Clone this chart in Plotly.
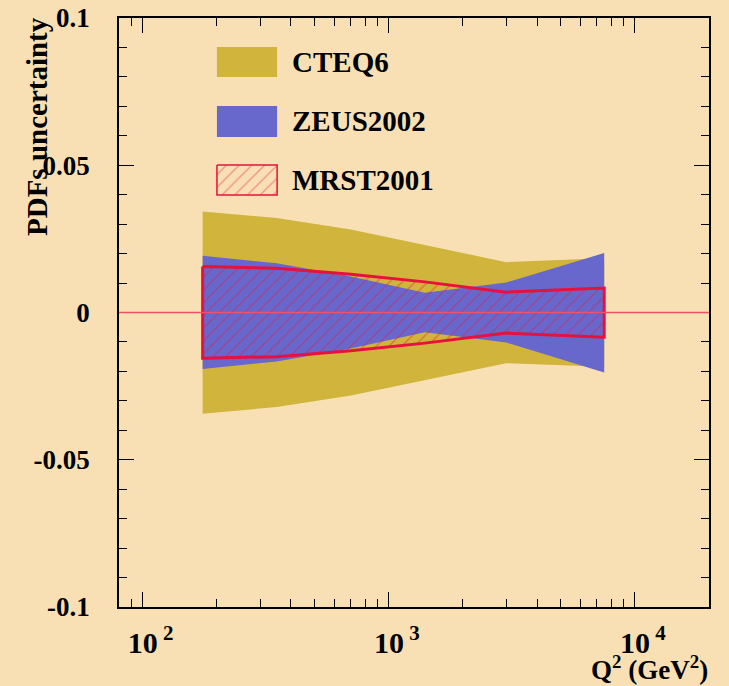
import plotly.graph_objects as go

# ---- data ----
q2 = [175, 350, 700, 1400, 3000, 7500]
cteq_up = [0.0343, 0.0321, 0.0282, 0.0230, 0.0171, 0.0184]
cteq_dn = [-0.0344, -0.0321, -0.0282, -0.0230, -0.0172, -0.0184]
zeus_up = [0.0193, 0.0167, 0.0122, 0.0067, 0.0102, 0.0202]
zeus_dn = [-0.0192, -0.0166, -0.0122, -0.0067, -0.0102, -0.0204]
mrst_up = [0.0156, 0.0150, 0.0130, 0.0104, 0.0069, 0.0083]
mrst_dn = [-0.0155, -0.0150, -0.0130, -0.0104, -0.0070, -0.0084]

series_names = ["CTEQ6", "ZEUS2002", "MRST2001"]
x_tickvals = [100, 1000, 10000]
x_exponents = ["2", "3", "4"]
x_minor = [80, 90, 200, 300, 400, 500, 600, 700, 800, 900,
           2000, 3000, 4000, 5000, 6000, 7000, 8000, 9000, 20000]
y_tickvals = [-0.1, -0.05, 0, 0.05, 0.1]
y_ticktext = ["-0.1", "-0.05", "0", "0.05", "0.1"]

BG = "#F8E0B4"
YEL = "#D0B43C"
BLU = "#6868CC"
RED = "#E8103C"
FONT = "Liberation Serif"

# "10" centred on the tick, exponent to its right (invisible twin on the left balances it)
x_ticktext = ["<span style='color:rgba(0,0,0,0)'><sup>%s </sup></span>10<sup> %s</sup>" % (e, e)
              for e in x_exponents]

def band(up, dn):
    return q2 + q2[::-1], up + dn[::-1]

fig = go.Figure()
x, y = band(cteq_up, cteq_dn)
fig.add_trace(go.Scatter(x=x, y=y, fill="toself", fillcolor=YEL, mode="lines",
                         line=dict(width=0, color=YEL), showlegend=False, name=series_names[0]))
x, y = band(zeus_up, zeus_dn)
fig.add_trace(go.Scatter(x=x, y=y, fill="toself", fillcolor=BLU, mode="lines",
                         line=dict(width=0, color=BLU), showlegend=False, name=series_names[1]))
x, y = band(mrst_up, mrst_dn)
x = x + [x[0]]
y = y + [y[0]]
fig.add_trace(go.Scatter(x=x, y=y, fill="toself", fillcolor="rgba(0,0,0,0)", mode="lines",
                         fillpattern=dict(shape="/", fgcolor=RED, bgcolor="rgba(0,0,0,0)",
                                          size=9, solidity=0.12, fillmode="overlay"),
                         line=dict(width=3, color=RED), showlegend=False, name=series_names[2]))

# legend hatched box on overlay axes (legend decoration only)
lx0, lx1 = 0.166, 0.268
fig.add_trace(go.Scatter(x=[lx0, lx1, lx1, lx0, lx0], y=[0.7504, 0.7504, 0.6995, 0.6995, 0.7504],
                         xaxis="x2", yaxis="y2", fill="toself", fillcolor="rgba(0,0,0,0)",
                         mode="lines", line=dict(width=1.5, color=RED),
                         fillpattern=dict(shape="/", fgcolor=RED, bgcolor="rgba(0,0,0,0)",
                                          size=9, solidity=0.12, fillmode="overlay"),
                         showlegend=False, hoverinfo="skip"))

shapes = [
    dict(type="rect", xref="paper", yref="paper", x0=lx0, x1=lx1, y0=0.8998, y1=0.9508,
         fillcolor=YEL, line=dict(width=0)),
    dict(type="rect", xref="paper", yref="paper", x0=lx0, x1=lx1, y0=0.798, y1=0.8506,
         fillcolor=BLU, line=dict(width=0)),
    dict(type="line", xref="x domain", yref="y", x0=0, x1=1, y0=0, y1=0,
         line=dict(color="#F05068", width=1.5), layer="above"),
]

annotations = []
for name, yc in zip(series_names, [0.9253, 0.8243, 0.725]):
    annotations.append(dict(text=name, x=0.29, y=yc, xref="paper", yref="paper",
                            xanchor="left", yanchor="middle", showarrow=False,
                            font=dict(family=FONT, size=29, color="black", weight="bold")))
annotations.append(dict(text="PDFs uncertainty", x=-0.139, y=0.8166, xref="paper", yref="paper",
                        textangle=-90, xanchor="center", yanchor="middle", showarrow=False,
                        font=dict(family=FONT, size=29, color="black", weight="bold")))
annotations.append(dict(text="Q<sup>2</sup> (GeV<sup>2</sup>)", x=1.0, y=-0.1341, xref="paper", yref="paper",
                        xanchor="right", yanchor="bottom", showarrow=False, borderpad=0,
                        font=dict(family=FONT, size=27, color="black", weight="bold")))

fig.update_layout(
    width=729, height=686,
    margin=dict(l=119, r=20, t=18, b=79),
    paper_bgcolor=BG, plot_bgcolor=BG,
    shapes=shapes, annotations=annotations,
    showlegend=False,
    xaxis=dict(type="log", range=[1.90309, 4.30103], showgrid=False, zeroline=False,
               automargin=False,
               showline=True, linecolor="black", linewidth=1.5, mirror="allticks",
               ticks="inside", ticklen=15, tickwidth=1, tickcolor="black",
               tickmode="array", tickvals=x_tickvals, ticktext=x_ticktext,
               ticklabelstandoff=8,
               tickfont=dict(family=FONT, size=30, color="black", weight="bold"),
               minor=dict(ticks="inside", ticklen=8, tickwidth=1, tickcolor="black",
                          tickvals=x_minor, showgrid=False)),
    yaxis=dict(range=[-0.1, 0.1], showgrid=False, zeroline=False,
               automargin=False,
               showline=True, linecolor="black", linewidth=1.5, mirror="allticks",
               ticks="inside", ticklen=15, tickwidth=1, tickcolor="black",
               tickmode="array", tickvals=y_tickvals, ticktext=y_ticktext,
               ticklabelstandoff=22,
               tickfont=dict(family=FONT, size=27, color="black", weight="bold"),
               minor=dict(ticks="inside", ticklen=8, tickwidth=1, tickcolor="black",
                          dtick=0.01, showgrid=False)),
    xaxis2=dict(domain=[0, 1], range=[0, 1], overlaying="x", visible=False, anchor="y2"),
    yaxis2=dict(domain=[0, 1], range=[0, 1], overlaying="y", visible=False, anchor="x2"),
)

fig.write_html("out.html")
